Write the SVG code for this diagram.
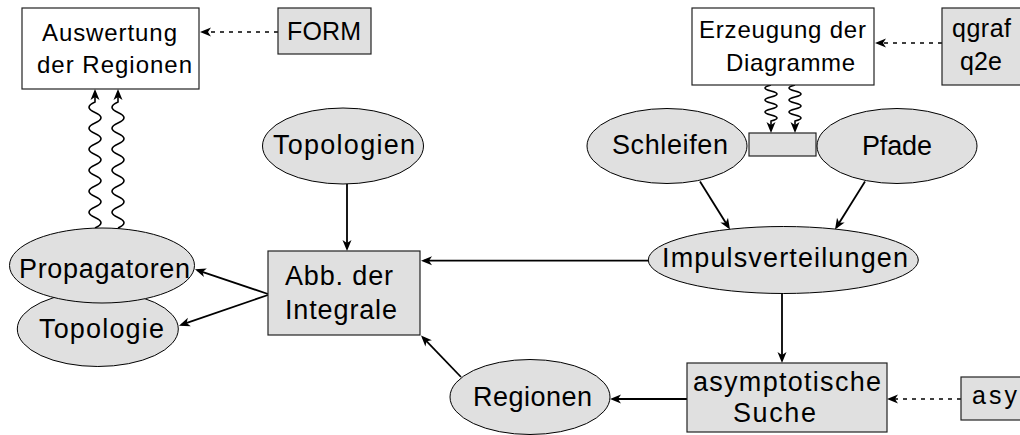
<svg xmlns="http://www.w3.org/2000/svg" width="1020" height="435" viewBox="0 0 1020 435">
<style>
.box{fill:#fff;stroke:#222;stroke-width:1.2}
.gbox{fill:#e0e0e0;stroke:#222;stroke-width:1.2}
.ell{fill:#e0e0e0;stroke:#000;stroke-width:1}
text{font-family:"Liberation Sans",Arial,Helvetica,sans-serif;fill:#000}
.t24{font-size:24px}
.t25{font-size:25px}
.t27{font-size:27px}
.arr{fill:none;stroke:#000;stroke-width:1.8;marker-end:url(#ah)}
.dash{fill:none;stroke:#000;stroke-width:1.5;stroke-dasharray:4 5;marker-end:url(#ah)}
.wave{fill:none;stroke:#000;stroke-width:1.6;marker-end:url(#ah)}
</style>
<defs>
<marker id="ah" viewBox="-14 -7 15 14" refX="-3" refY="0" markerWidth="15" markerHeight="14" markerUnits="userSpaceOnUse" orient="auto">
<path d="M0,0 L-11,-4.5 L-8,0 L-11,4.5 Z" fill="#000"/>
</marker>
</defs>

<g id="connectors">
<path class="dash" d="M278,32 L203,32"/>
<path class="dash" d="M942,43 L878,43"/>
<path class="dash" d="M961,399 L890,399"/>
<path class="wave" d="M95,228 q12,-5.25 0,-10.5 t0,-10.5 t0,-10.5 t0,-10.5 t0,-10.5 t0,-10.5 t0,-10.5 t0,-10.5 t0,-10.5 t0,-10.5 t0,-10.5 t0,-10.5 L95,92"/>
<path class="wave" d="M118,228 q12,-5.25 0,-10.5 t0,-10.5 t0,-10.5 t0,-10.5 t0,-10.5 t0,-10.5 t0,-10.5 t0,-10.5 t0,-10.5 t0,-10.5 t0,-10.5 t0,-10.5 L118,92"/>
<path class="wave" d="M771,85 q-12,3 0,6 t0,6 t0,6 t0,6 t0,6 t0,6 L771,130"/>
<path class="wave" d="M795,85 q-12,3 0,6 t0,6 t0,6 t0,6 t0,6 t0,6 L795,130"/>
<path class="arr" d="M347,184 L347,248"/>
<path class="arr" d="M648,260.7 L424,260.7"/>
<path class="arr" d="M268,294 L197.8,270.3"/>
<path class="arr" d="M268,295 L181.8,324.7"/>
<path class="arr" d="M700,181.5 L728.4,227"/>
<path class="arr" d="M865,181.5 L836.6,227"/>
<path class="arr" d="M782,293 L782,360"/>
<path class="arr" d="M687,399 L613,399"/>
<path class="arr" d="M461,377 L423.1,337.6"/>
</g>

<g id="auswertung">
<rect class="box" x="22" y="8" width="177" height="81"/>
<text class="t24" x="42" y="41" textLength="135" lengthAdjust="spacing">Auswertung</text>
<text class="t24" x="37" y="72.5" textLength="155" lengthAdjust="spacing">der Regionen</text>
</g>
<g id="form">
<rect class="gbox" x="278" y="8" width="93" height="46"/>
<text class="t25" x="287" y="40" textLength="74" lengthAdjust="spacing">FORM</text>
</g>
<g id="erzeugung">
<rect class="box" x="692" y="8" width="182" height="77"/>
<text class="t24" x="699" y="37.5" textLength="167" lengthAdjust="spacing">Erzeugung der</text>
<text class="t24" x="726" y="70.5" textLength="129" lengthAdjust="spacing">Diagramme</text>
</g>
<g id="qgraf">
<rect class="gbox" x="942" y="8" width="90" height="77"/>
<text class="t25" x="952" y="37" textLength="59" lengthAdjust="spacing">qgraf</text>
<text class="t25" x="960" y="70" textLength="42" lengthAdjust="spacing">q2e</text>
</g>
<g id="topologien">
<ellipse class="ell" cx="343" cy="146" rx="80.5" ry="38"/>
<text class="t27" x="273" y="154" textLength="142" lengthAdjust="spacing">Topologien</text>
</g>
<g id="schleifen">
<ellipse class="ell" cx="667" cy="146" rx="80" ry="37.5"/>
<text class="t27" x="612" y="154" textLength="116" lengthAdjust="spacing">Schleifen</text>
</g>
<g id="verbindung">
<rect class="gbox" x="749" y="133" width="67" height="23"/>
</g>
<g id="pfade">
<ellipse class="ell" cx="897" cy="146" rx="80" ry="37.5"/>
<text class="t27" x="862" y="154.5" textLength="70" lengthAdjust="spacing">Pfade</text>
</g>
<g id="impulsverteilungen">
<ellipse class="ell" cx="783.3" cy="260" rx="135" ry="33.5"/>
<text class="t27" x="662" y="267" textLength="246" lengthAdjust="spacing">Impulsverteilungen</text>
</g>
<g id="abbildung">
<rect class="gbox" x="268" y="251" width="152" height="84"/>
<text class="t27" x="285" y="285" textLength="108" lengthAdjust="spacing">Abb. der</text>
<text class="t27" x="285" y="318.5" textLength="112" lengthAdjust="spacing">Integrale</text>
</g>
<g id="topologie">
<ellipse class="ell" cx="97.8" cy="329" rx="80.5" ry="37.5"/>
<text class="t27" x="39" y="338" textLength="125" lengthAdjust="spacing">Topologie</text>
</g>
<g id="propagatoren">
<ellipse class="ell" cx="102" cy="265.5" rx="92.5" ry="37.5"/>
<text class="t27" x="19" y="277.5" textLength="171" lengthAdjust="spacing">Propagatoren</text>
</g>
<g id="regionen">
<ellipse class="ell" cx="530" cy="397" rx="80" ry="37.5"/>
<text class="t27" x="473" y="405.5" textLength="119" lengthAdjust="spacing">Regionen</text>
</g>
<g id="suche">
<rect class="gbox" x="687" y="363" width="200" height="69"/>
<text class="t27" x="693" y="390.5" textLength="188" lengthAdjust="spacing">asymptotische</text>
<text class="t27" x="733" y="421.5" textLength="83" lengthAdjust="spacing">Suche</text>
</g>
<g id="asy">
<rect class="gbox" x="961" y="377" width="70" height="43"/>
<text class="t25" x="972" y="404" textLength="45" lengthAdjust="spacing">asy</text>
</g>
</svg>
